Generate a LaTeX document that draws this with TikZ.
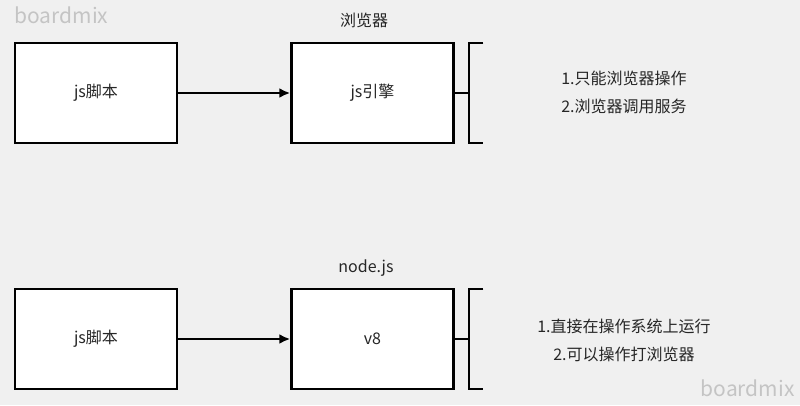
\documentclass[tikz,border=0pt]{standalone}
\usepackage{fontspec}
\setmainfont{Noto Sans CJK SC}
\usetikzlibrary{positioning,calc,arrows.meta}
\definecolor{bgcol}{HTML}{F0F0F0}
\definecolor{txtcol}{HTML}{262626}
\definecolor{markcol}{HTML}{C4C4C4}

\begin{document}
\begin{tikzpicture}[
    x=1pt, y=-1pt,
    font=\fontsize{16}{28}\selectfont,
    box/.style={draw, line width=2.5pt, fill=white, minimum width=162pt, minimum height=100pt, text=txtcol},
    brace/.style={minimum width=14pt, minimum height=100pt, inner sep=0pt},
    arrow/.style={-{Latex[length=11pt,width=10pt]}, line width=2.5pt},
    link/.style={line width=2.5pt},
    note/.style={align=center, text=txtcol},
    watermark/.style={text=markcol, font=\fontsize{21}{24}\selectfont}
  ]
    \fill[bgcol] (0,0) rectangle (800,405);
    \useasboundingbox (0,0) rectangle (800,405);

    % 浏览器
    \node[box] (js1) at (96,93) {js脚本};
    \node[box] (eng) at (372.5,93) {js引擎};
    \node[note] (browser) at (364,20) {浏览器};
    \node[brace, anchor=west] (br1) at (469,93) {};
    \node[note] (use1) at (624,92) {1.只能浏览器操作\\2.浏览器调用服务};

    % node.js
    \node[box] (js2) at (96,339) {js脚本};
    \node[box] (v8) at (372.5,339) {v8};
    \node[note] (nodejs) at (366,268) {node.js};
    \node[brace, anchor=west] (br2) at (469,339) {};
    \node[note] (use2) at (624,340) {1.直接在操作系统上运行\\2.可以操作打浏览器};

    \draw[arrow] (js1) -- (eng);
    \draw[link] (eng) -- (br1.west);
    \draw[link] (br1.north east) -- (br1.north west) -- (br1.south west) -- (br1.south east);
    \draw[arrow] (js2) -- (v8);
    \draw[link] (v8) -- (br2.west);
    \draw[link] (br2.north east) -- (br2.north west) -- (br2.south west) -- (br2.south east);

    \node[watermark, anchor=west] (wm1) at (11,15) {boardmix};
    \node[watermark, anchor=east] (wm2) at (798,388) {boardmix};
\end{tikzpicture}
\end{document}
